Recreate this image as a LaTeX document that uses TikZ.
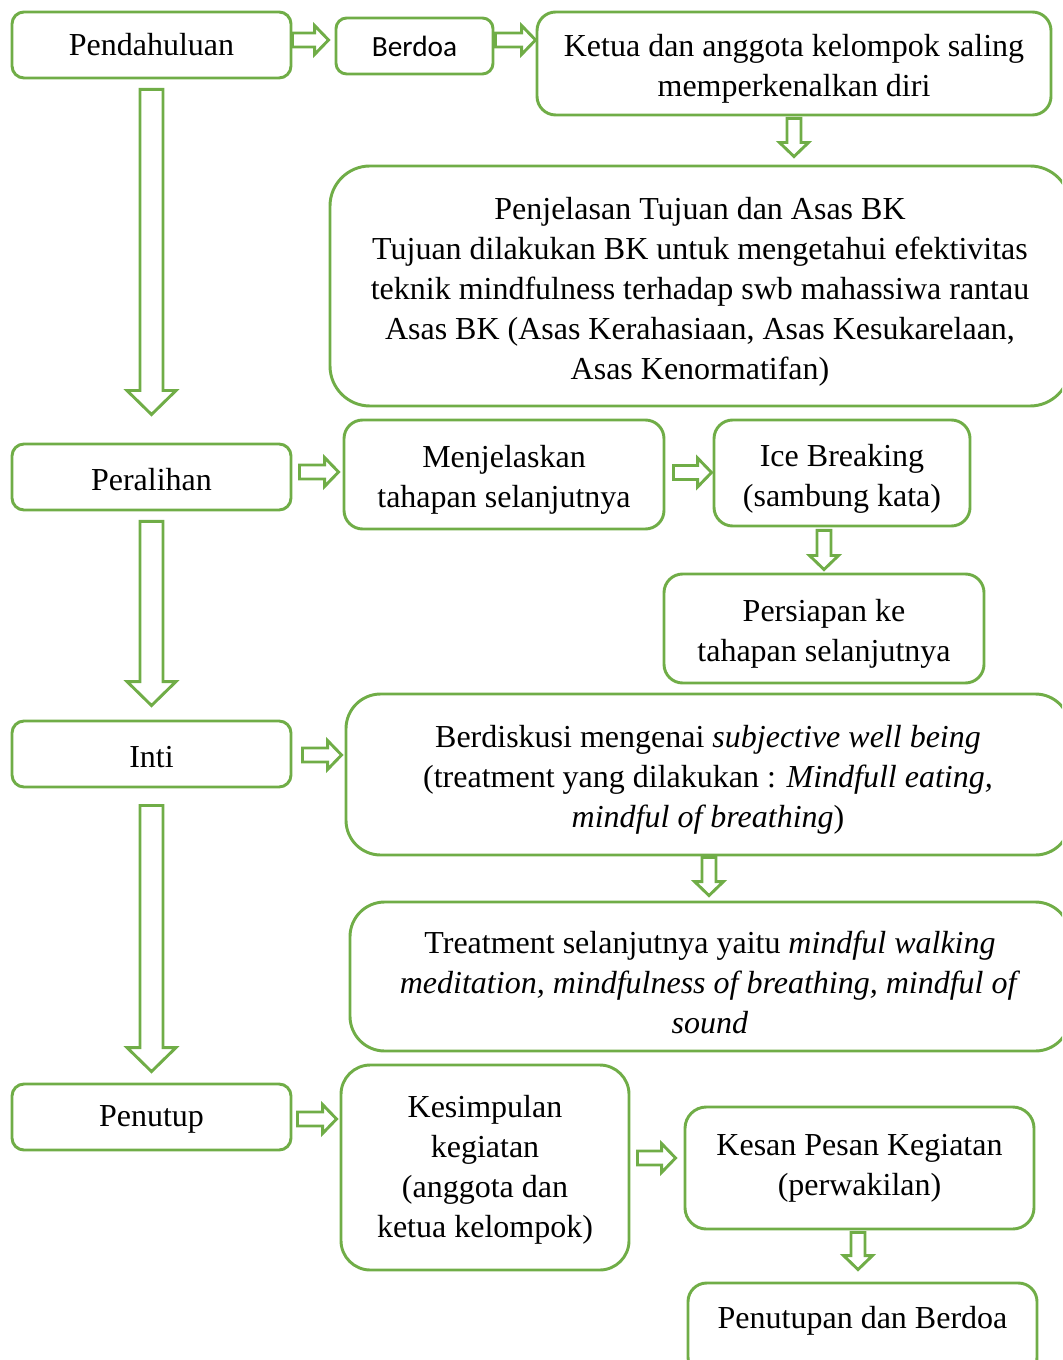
\documentclass[tikz,border=0pt]{standalone}
\usepackage{fontspec}
\setmainfont{Liberation Serif}
\newfontfamily\calibrifont{Carlito}
\usetikzlibrary{calc}

\definecolor{stepgreen}{RGB}{112,173,71}
\def\px{0.375pt}
\newcommand{\liftup}{\rule{0pt}{12.6pt}}

\tikzset{
  hollowright/.style n args={3}{to path={let \p1=(\tikztostart), \p2=(\tikztotarget) in
    (\x1,\y1+#1) -- (\x2-#3,\y1+#1) -- (\x2-#3,\y1+#2) -- (\x2,\y1)
    -- (\x2-#3,\y1-#2) -- (\x2-#3,\y1-#1) -- (\x1,\y1-#1) -- cycle}},
  hollowdown/.style n args={3}{to path={let \p1=(\tikztostart), \p2=(\tikztotarget) in
    (\x1-#1,\y1) -- (\x1-#1,\y2+#3) -- (\x1-#2,\y2+#3) -- (\x1,\y2)
    -- (\x1+#2,\y2+#3) -- (\x1+#1,\y2+#3) -- (\x1+#1,\y1) -- cycle}},
}

\begin{document}
\begin{tikzpicture}[x=0.375pt, y=-0.375pt,
    stepbox/.style={draw=stepgreen, line width=1.1pt, rounded corners=#1, align=center,
      inner sep=0pt, font=\fontsize{12}{15}\selectfont},
    stepbox/.default=4.5pt,
    arr/.style={draw=stepgreen, line width=1.1pt, line join=miter},
    smallright/.style={arr, hollowright={7*\px}{14.5*\px}{14*\px}},
    smalldown/.style={arr, hollowdown={7*\px}{14.5*\px}{14*\px}},
    bigdown/.style={arr, hollowdown={11.5*\px}{24.5*\px}{24*\px}}]

    \path[use as bounding box] (0,0) rectangle (1062,1360);
    \clip (0,0) rectangle (1062,1360);

    % Pendahuluan
    \node[stepbox, minimum width=279*\px, minimum height=66*\px] (pendahuluan) at (151.5,45) {Pendahuluan};
    \node[stepbox=4pt, minimum width=157*\px, minimum height=56*\px, font=\fontsize{11}{13}\calibrifont] (berdoa) at (414.5,46) {Berdoa};
    \node[stepbox=7pt, minimum width=514*\px, minimum height=103*\px] (kenalan) at (794,63.5) {\liftup Ketua dan anggota kelompok saling\\memperkenalkan diri};
    \node[stepbox=15pt, minimum width=740*\px, minimum height=240*\px] (tujuan) at (700,286) {\liftup Penjelasan Tujuan dan Asas BK\\Tujuan dilakukan BK untuk mengetahui efektivitas\\teknik mindfulness terhadap swb mahassiwa rantau\\Asas BK (Asas Kerahasiaan, Asas Kesukarelaan,\\Asas Kenormatifan)};

    % Peralihan
    \node[stepbox, minimum width=279*\px, minimum height=66*\px] (peralihan) at (151.5,477) {\rule{0pt}{10pt}Peralihan};
    \node[stepbox=7pt, minimum width=320*\px, minimum height=109*\px] (tahapan) at (504,474.5) {\liftup Menjelaskan\\tahapan selanjutnya};
    \node[stepbox=7pt, minimum width=256*\px, minimum height=106*\px] (icebreak) at (842,473) {\liftup Ice Breaking\\(sambung kata)};
    \node[stepbox=7pt, minimum width=320*\px, minimum height=109*\px] (persiapan) at (824,628.5) {\liftup Persiapan ke\\tahapan selanjutnya};

    % Inti
    \node[stepbox, minimum width=279*\px, minimum height=66*\px] (inti) at (151.5,754) {\rule{0pt}{10pt}Inti};
    \node[stepbox=13pt, minimum width=724*\px, minimum height=161*\px] (diskusi) at (708,774.5) {\liftup Berdiskusi mengenai \textit{subjective well being}\\(treatment yang dilakukan : \textit{Mindfull eating,}\\\textit{mindful of breathing})};
    \node[stepbox=13pt, minimum width=720*\px, minimum height=149*\px] (treatment) at (710,976.5) {\liftup Treatment selanjutnya yaitu \textit{mindful walking}\\\textit{meditation, mindfulness of breathing, mindful of}\\\textit{sound}};

    % Penutup
    \node[stepbox, minimum width=279*\px, minimum height=66*\px] (penutup) at (151.5,1117) {\rule{0pt}{10pt}Penutup};
    \node[stepbox=11pt, minimum width=288*\px, minimum height=205*\px] (kesimpulan) at (485,1167.5) {\rule{0pt}{10pt}Kesimpulan\\kegiatan\\(anggota dan\\ketua kelompok)};
    \node[stepbox=8pt, minimum width=349*\px, minimum height=122*\px] (kesan) at (859.5,1168) {Kesan Pesan Kegiatan\\(perwakilan)};
    \node[stepbox=7pt, anchor=base, minimum width=349*\px, text height=45*\px, text depth=48*\px] (penutupan) at (862.5,1328) {Penutupan dan Berdoa};

    % Arrows along the main stages
    \draw[bigdown] ($(pendahuluan.south)+(0,10)$) to ($(peralihan.north)+(0,-28)$);
    \draw[bigdown] ($(peralihan.south)+(0,10)$) to ($(inti.north)+(0,-14)$);
    \draw[bigdown] ($(inti.south)+(0,17)$) to ($(penutup.north)+(0,-11)$);

    % Arrows inside each stage
    \draw[smallright] ($(pendahuluan.east)+(0,-5)$) to ($(berdoa.west)+(-6,0)$);
    \draw[smallright] ($(berdoa.east)+(1,-6)$) to (kenalan.west);
    \draw[smalldown] ($(kenalan.south)+(0,2)$) to ($(kenalan.south |- tujuan.north)+(0,-8)$);
    \draw[smallright] ($(peralihan.east)+(7,-5)$) to ($(tahapan.west)+(-4,0)$);
    \draw[smallright] ($(tahapan.east)+(8,-2)$) to ($(icebreak.west)+(-1,0)$);
    \draw[smalldown] ($(icebreak.south -| persiapan.north)+(0,3)$) to ($(persiapan.north)+(0,-3)$);
    \draw[smallright] ($(inti.east)+(10,1)$) to ($(diskusi.west)+(-3,0)$);
    \draw[smalldown] ($(diskusi.south)+(1,1)$) to ($(diskusi.south |- treatment.north)+(0,-5)$);
    \draw[smallright] ($(penutup.east)+(5,2)$) to ($(kesimpulan.west)+(-3,0)$);
    \draw[smallright] ($(kesimpulan.east)+(7,-9.5)$) to ($(kesan.west)+(-8,0)$);
    \draw[smalldown] ($(kesan.south)+(-1.5,2)$) to ($(kesan.south |- penutupan.north)+(0,-12)$);

\end{tikzpicture}
\end{document}
